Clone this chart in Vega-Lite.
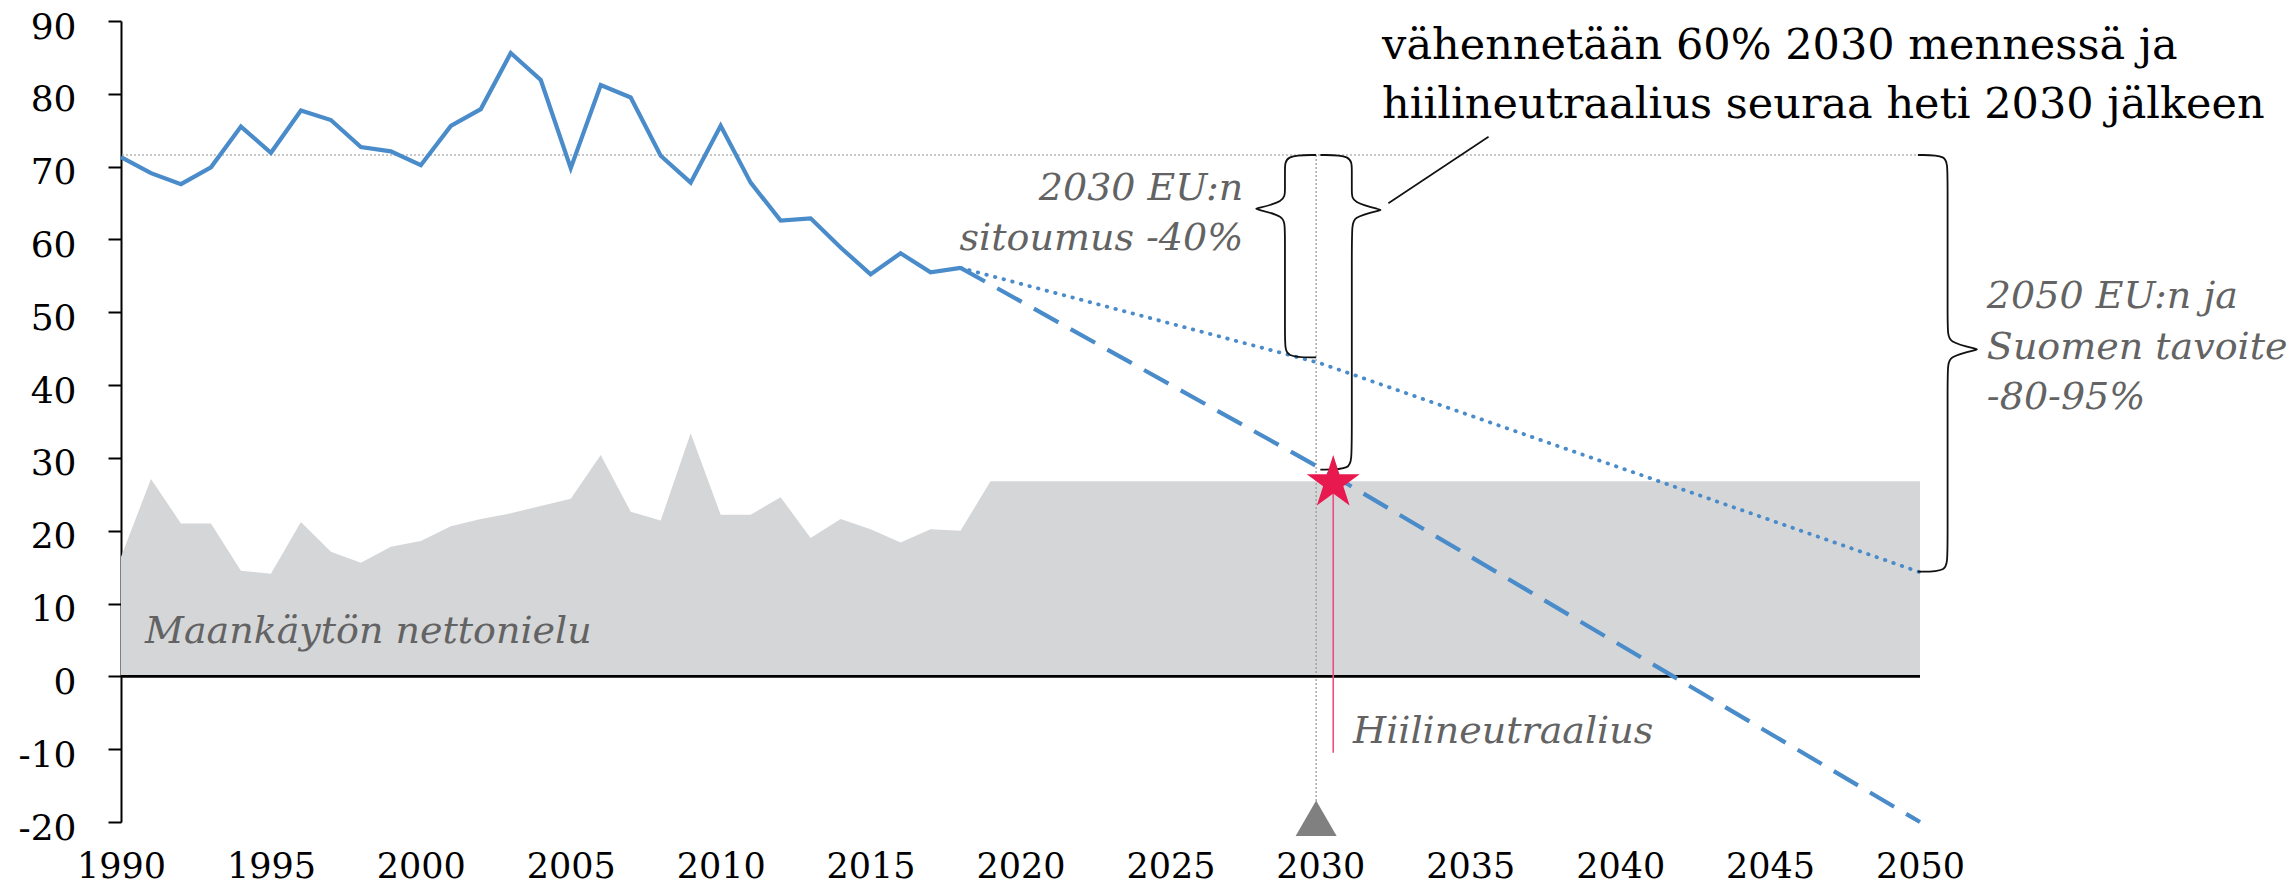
{
  "$schema": "https://vega.github.io/schema/vega-lite/v6.json",
  "width": 1799,
  "height": 801,
  "autosize": {"type": "none"},
  "padding": {"left": 121, "top": 21, "right": 370, "bottom": 66},
  "background": "white",
  "config": {"view": {"stroke": null}, "font": "DejaVu Serif"},
  "datasets": {
    "sink": [
      {"year": 1990, "value": 16.4}, {"year": 1991, "value": 27.1}, {"year": 1992, "value": 21.0},
      {"year": 1993, "value": 21.0}, {"year": 1994, "value": 14.5}, {"year": 1995, "value": 14.1},
      {"year": 1996, "value": 21.2}, {"year": 1997, "value": 17.1}, {"year": 1998, "value": 15.6},
      {"year": 1999, "value": 17.8}, {"year": 2000, "value": 18.6}, {"year": 2001, "value": 20.6},
      {"year": 2002, "value": 21.6}, {"year": 2003, "value": 22.4}, {"year": 2004, "value": 23.4},
      {"year": 2005, "value": 24.4}, {"year": 2006, "value": 30.4}, {"year": 2007, "value": 22.6},
      {"year": 2008, "value": 21.4}, {"year": 2009, "value": 33.4}, {"year": 2010, "value": 22.2},
      {"year": 2011, "value": 22.2}, {"year": 2012, "value": 24.6}, {"year": 2013, "value": 19.0},
      {"year": 2014, "value": 21.6}, {"year": 2015, "value": 20.2}, {"year": 2016, "value": 18.4},
      {"year": 2017, "value": 20.2}, {"year": 2018, "value": 20.0}, {"year": 2019, "value": 26.8},
      {"year": 2050, "value": 26.8}
    ],
    "em": [
      {"series": "solid", "year": 1990, "value": 71.3}, {"series": "solid", "year": 1991, "value": 69.1},
      {"series": "solid", "year": 1992, "value": 67.6}, {"series": "solid", "year": 1993, "value": 69.9},
      {"series": "solid", "year": 1994, "value": 75.5}, {"series": "solid", "year": 1995, "value": 71.9},
      {"series": "solid", "year": 1996, "value": 77.7}, {"series": "solid", "year": 1997, "value": 76.4},
      {"series": "solid", "year": 1998, "value": 72.7}, {"series": "solid", "year": 1999, "value": 72.1},
      {"series": "solid", "year": 2000, "value": 70.2}, {"series": "solid", "year": 2001, "value": 75.6},
      {"series": "solid", "year": 2002, "value": 77.9}, {"series": "solid", "year": 2003, "value": 85.6},
      {"series": "solid", "year": 2004, "value": 81.9}, {"series": "solid", "year": 2005, "value": 69.8},
      {"series": "solid", "year": 2006, "value": 81.2}, {"series": "solid", "year": 2007, "value": 79.5},
      {"series": "solid", "year": 2008, "value": 71.5}, {"series": "solid", "year": 2009, "value": 67.8},
      {"series": "solid", "year": 2010, "value": 75.6}, {"series": "solid", "year": 2011, "value": 67.8},
      {"series": "solid", "year": 2012, "value": 62.6}, {"series": "solid", "year": 2013, "value": 62.9},
      {"series": "solid", "year": 2014, "value": 58.9}, {"series": "solid", "year": 2015, "value": 55.2},
      {"series": "solid", "year": 2016, "value": 58.1}, {"series": "solid", "year": 2017, "value": 55.5},
      {"series": "solid", "year": 2018, "value": 56.1},
      {"series": "dashed", "year": 2018, "value": 56.1}, {"series": "dashed", "year": 2030, "value": 28.6},
      {"series": "dashed", "year": 2050, "value": -20.0},
      {"series": "dotted", "year": 2018, "value": 56.1}, {"series": "dotted", "year": 2030, "value": 43.0},
      {"series": "dotted", "year": 2050, "value": 14.3}
    ],
    "braces": [
      {"b": "L", "i": 0, "year": 2029.86, "value": 71.6}, {"b": "L", "i": 1, "year": 2028.82, "value": 71.6},
      {"b": "L", "i": 2, "year": 2028.82, "value": 69.6}, {"b": "L", "i": 3, "year": 2028.82, "value": 66.7},
      {"b": "L", "i": 4, "year": 2028.82, "value": 65.2}, {"b": "L", "i": 5, "year": 2027.82, "value": 64.2},
      {"b": "L", "i": 6, "year": 2027.82, "value": 64.2}, {"b": "L", "i": 7, "year": 2028.82, "value": 63.2},
      {"b": "L", "i": 8, "year": 2028.82, "value": 61.7}, {"b": "L", "i": 9, "year": 2028.82, "value": 45.8},
      {"b": "L", "i": 10, "year": 2028.82, "value": 43.8}, {"b": "L", "i": 11, "year": 2029.86, "value": 43.8},
      {"b": "R", "i": 0, "year": 2030.0, "value": 71.6}, {"b": "R", "i": 1, "year": 2031.05, "value": 71.6},
      {"b": "R", "i": 2, "year": 2031.05, "value": 69.6}, {"b": "R", "i": 3, "year": 2031.05, "value": 66.55},
      {"b": "R", "i": 4, "year": 2031.05, "value": 65.05}, {"b": "R", "i": 5, "year": 2032.05, "value": 64.05},
      {"b": "R", "i": 6, "year": 2032.05, "value": 64.05}, {"b": "R", "i": 7, "year": 2031.05, "value": 63.05},
      {"b": "R", "i": 8, "year": 2031.05, "value": 61.55}, {"b": "R", "i": 9, "year": 2031.05, "value": 30.4},
      {"b": "R", "i": 10, "year": 2031.05, "value": 28.4}, {"b": "R", "i": 11, "year": 2030.0, "value": 28.4},
      {"b": "F", "i": 0, "year": 2049.93, "value": 71.6}, {"b": "F", "i": 1, "year": 2050.92, "value": 71.6},
      {"b": "F", "i": 2, "year": 2050.92, "value": 69.6}, {"b": "F", "i": 3, "year": 2050.92, "value": 47.4},
      {"b": "F", "i": 4, "year": 2050.92, "value": 45.9}, {"b": "F", "i": 5, "year": 2051.94, "value": 44.9},
      {"b": "F", "i": 6, "year": 2051.94, "value": 44.9}, {"b": "F", "i": 7, "year": 2050.92, "value": 43.9},
      {"b": "F", "i": 8, "year": 2050.92, "value": 42.4}, {"b": "F", "i": 9, "year": 2050.92, "value": 16.4},
      {"b": "F", "i": 10, "year": 2050.92, "value": 14.38}, {"b": "F", "i": 11, "year": 2049.93, "value": 14.38}
    ],
    "connector": [{"year": 2032.27, "value": 64.97, "year2": 2035.61, "value2": 74.1}],
    "grayLabels": [
      {"year": 1990.8, "value": 4.63, "t": "Maankäytön nettonielu"},
      {"year": 2052.23, "value": 50.55, "t": "2050 EU:n ja\nSuomen tavoite\n-80-95%"},
      {"year": 2031.09, "value": -9.1, "t": "Hiilineutraalius"}
    ],
    "grayLabelsRight": [
      {"year": 2027.43, "value": 65.42, "t": "2030 EU:n\nsitoumus -40%"}
    ],
    "topText": [
      {"year": 2032.06, "value": 84.78, "t": "vähennetään 60% 2030 mennessä ja\nhiilineutraalius seuraa heti 2030 jälkeen"}
    ],
    "star": [{"year": 2030.43, "value": 26.57}],
    "pink": [{"year": 2030.43, "value": 26.5, "value2": -10.5}],
    "vline": [{"year": 2029.86, "value": 71.6, "value2": -19}],
    "tri": [{"year": 2029.86, "value": -19.5}],
    "refLines": [{"level": 71.6, "kind": "base"}],
    "zeroLine": [{"level": 0}]
  },
  "layer": [
    {
      "data": {"name": "sink"},
      "mark": {"type": "area", "color": "#d5d6d8", "opacity": 1},
      "encoding": {
        "x": {"field": "year", "type": "quantitative",
          "scale": {"domain": [1990, 2050], "nice": false, "zero": false},
          "axis": {"values": [1990, 1995, 2000, 2005, 2010, 2015, 2020, 2025, 2030, 2035, 2040, 2045, 2050],
            "format": "d", "title": null, "grid": false, "domain": false, "ticks": false,
            "labelFont": "DejaVu Serif", "labelFontSize": 35, "labelColor": "#000000",
            "labelPadding": 55, "labelBaseline": "alphabetic", "labelFlush": false, "labelOverlap": false}},
        "y": {"field": "value", "type": "quantitative",
          "scale": {"domain": [-20, 90], "nice": false, "zero": false},
          "axis": {"values": [-20, -10, 0, 10, 20, 30, 40, 50, 60, 70, 80, 90],
            "labelExpr": "'' + datum.value",
            "title": null, "grid": false, "domain": true, "domainColor": "#000000", "domainWidth": 2,
            "ticks": true, "tickColor": "#000000", "tickWidth": 2, "tickSize": 13,
            "labelFont": "DejaVu Serif", "labelFontSize": 36, "labelColor": "#000000",
            "labelPadding": 32, "labelBaseline": "alphabetic", "labelOffset": 17, "labelAlign": "right",
            "labelOverlap": false, "labelFlush": false}},
        "y2": {"datum": 0}
      }
    },
    {
      "data": {"name": "refLines"},
      "mark": {"type": "rule", "color": "#b5b5b5", "strokeWidth": 1.3, "strokeDash": [2, 2]},
      "encoding": {"y": {"field": "level", "type": "quantitative"}}
    },
    {
      "data": {"name": "vline"},
      "mark": {"type": "rule", "color": "#9a9a9a", "strokeWidth": 1.3, "strokeDash": [2, 2]},
      "encoding": {
        "x": {"field": "year", "type": "quantitative"},
        "y": {"field": "value", "type": "quantitative"},
        "y2": {"field": "value2"}
      }
    },
    {
      "data": {"name": "zeroLine"},
      "mark": {"type": "rule", "color": "#000000", "strokeWidth": 2.6},
      "encoding": {"y": {"field": "level", "type": "quantitative"}}
    },
    {
      "data": {"name": "pink"},
      "mark": {"type": "rule", "color": "#ec4f7e", "strokeWidth": 1.6},
      "encoding": {
        "x": {"field": "year", "type": "quantitative"},
        "y": {"field": "value", "type": "quantitative"},
        "y2": {"field": "value2"}
      }
    },
    {
      "data": {"name": "em"},
      "transform": [{"filter": "datum.series === 'solid'"}],
      "mark": {"type": "line", "color": "#4a8bca", "strokeWidth": 4.2, "strokeJoin": "miter"},
      "encoding": {
        "x": {"field": "year", "type": "quantitative"},
        "y": {"field": "value", "type": "quantitative"}
      }
    },
    {
      "data": {"name": "em"},
      "transform": [{"filter": "datum.series === 'dashed'"}],
      "mark": {"type": "line", "color": "#4a8bca", "strokeWidth": 4.2, "strokeDash": [28, 14]},
      "encoding": {
        "x": {"field": "year", "type": "quantitative"},
        "y": {"field": "value", "type": "quantitative"}
      }
    },
    {
      "data": {"name": "em"},
      "transform": [{"filter": "datum.series === 'dotted'"}],
      "mark": {"type": "line", "color": "#4a8bca", "strokeWidth": 3.8, "strokeDash": [0.5, 8.4], "strokeCap": "round"},
      "encoding": {
        "x": {"field": "year", "type": "quantitative"},
        "y": {"field": "value", "type": "quantitative"}
      }
    },
    {
      "data": {"name": "braces"},
      "mark": {"type": "line", "color": "#111111", "strokeWidth": 1.8, "interpolate": "basis"},
      "encoding": {
        "x": {"field": "year", "type": "quantitative"},
        "y": {"field": "value", "type": "quantitative"},
        "detail": {"field": "b"},
        "order": {"field": "i", "type": "quantitative"}
      }
    },
    {
      "data": {"name": "connector"},
      "mark": {"type": "rule", "color": "#111111", "strokeWidth": 1.6},
      "encoding": {
        "x": {"field": "year", "type": "quantitative"},
        "y": {"field": "value", "type": "quantitative"},
        "x2": {"field": "year2"},
        "y2": {"field": "value2"}
      }
    },
    {
      "data": {"name": "tri"},
      "mark": {"type": "point", "shape": "triangle-up", "size": 1681, "filled": true, "color": "#808080", "opacity": 1, "strokeWidth": 0},
      "encoding": {
        "x": {"field": "year", "type": "quantitative"},
        "y": {"field": "value", "type": "quantitative"}
      }
    },
    {
      "data": {"name": "star"},
      "mark": {"type": "point", "shape": "M0,-1L0.2245,-0.309L0.951,-0.309L0.363,0.118L0.588,0.809L0,0.382L-0.588,0.809L-0.363,0.118L-0.951,-0.309L-0.2245,-0.309Z", "size": 3100, "filled": true, "color": "#e8194f", "opacity": 1, "strokeWidth": 0},
      "encoding": {
        "x": {"field": "year", "type": "quantitative"},
        "y": {"field": "value", "type": "quantitative"}
      }
    },
    {
      "data": {"name": "grayLabels"},
      "mark": {"type": "text", "align": "left", "baseline": "alphabetic", "font": "DejaVu Serif", "fontStyle": "italic", "fontSize": 38, "color": "#636363", "lineBreak": "\n", "lineHeight": 50.5},
      "encoding": {
        "x": {"field": "year", "type": "quantitative"},
        "y": {"field": "value", "type": "quantitative"},
        "text": {"field": "t"}
      }
    },
    {
      "data": {"name": "grayLabelsRight"},
      "mark": {"type": "text", "align": "right", "baseline": "alphabetic", "font": "DejaVu Serif", "fontStyle": "italic", "fontSize": 38, "color": "#636363", "lineBreak": "\n", "lineHeight": 50},
      "encoding": {
        "x": {"field": "year", "type": "quantitative"},
        "y": {"field": "value", "type": "quantitative"},
        "text": {"field": "t"}
      }
    },
    {
      "data": {"name": "topText"},
      "mark": {"type": "text", "align": "left", "baseline": "alphabetic", "font": "DejaVu Serif", "fontSize": 43, "color": "#000000", "lineBreak": "\n", "lineHeight": 59},
      "encoding": {
        "x": {"field": "year", "type": "quantitative"},
        "y": {"field": "value", "type": "quantitative"},
        "text": {"field": "t"}
      }
    }
  ]
}
